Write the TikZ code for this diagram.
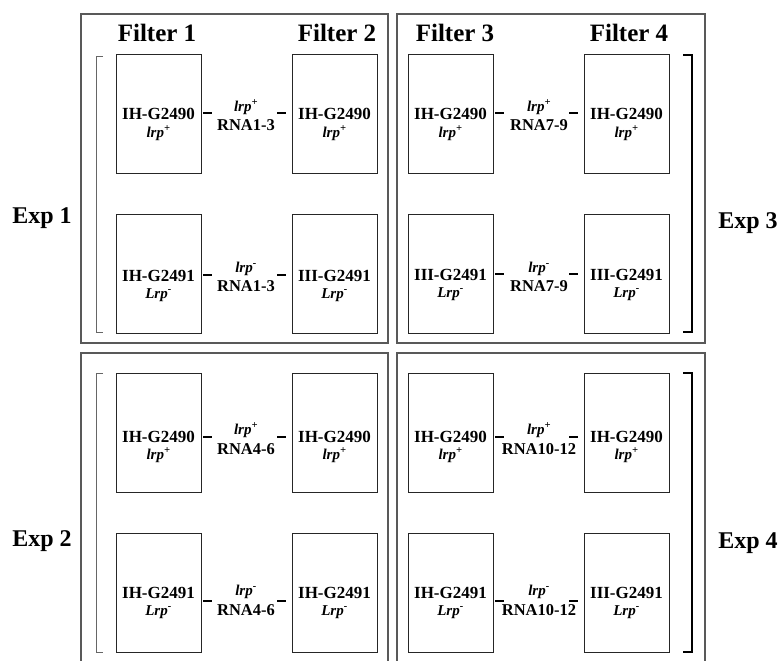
\documentclass[tikz,border=0pt]{standalone}
\usepackage{fontspec}
\setmainfont{Liberation Serif}
\newcommand\lrpp{\textit{lrp}\textsuperscript{+}}
\newcommand\lrpm{\textit{lrp}\textsuperscript{-}}
\newcommand\Lrpm{\textit{Lrp}\textsuperscript{-}}
\tikzset{
  panel/.style={draw=black!65, line width=1.1pt},
  cellbox/.style={draw=black!85, line width=0.9pt, minimum width=85pt, minimum height=119pt, inner sep=0pt},
  bar/.style={line width=2.8pt, draw=black},
  thinbrk/.style={draw=black!60, line width=1pt},
  thickbrk/.style={draw=black, line width=1.6pt},
  celltxt/.style={font=\fontsize{17}{17}\selectfont\bfseries, anchor=base, inner sep=0pt},
  midtxt/.style={font=\fontsize{16.5}{16.5}\selectfont\bfseries, anchor=base, inner sep=0pt},
  subtxt/.style={font=\fontsize{15}{15}\selectfont\bfseries\itshape, anchor=base, inner sep=0pt},
  head/.style={font=\fontsize{25}{25}\selectfont\bfseries, anchor=base, inner sep=0pt},
  explab/.style={font=\fontsize{24}{24}\selectfont\bfseries, anchor=base, inner sep=0pt}
}
\begin{document}
\begin{tikzpicture}[x=1pt,y=-1pt]
\useasboundingbox (0,0) rectangle (780,661);
% panels
\draw[panel] (81,14) rectangle (388,343);
\draw[panel] (397,14) rectangle (705,343);
\draw[panel] (81,661) -- (81,353) -- (388,353) -- (388,661);
\draw[panel] (397,661) -- (397,353) -- (705,353) -- (705,661);
% brackets
\draw[thinbrk] (103,57) -- (96,57) -- (96,332) -- (103,332);
\draw[thinbrk] (103,373) -- (96,373) -- (96,652) -- (103,652);
\draw[thickbrk] (683,55) -- (692,55) -- (692,332) -- (683,332);
\draw[thickbrk] (683,373) -- (692,373) -- (692,652) -- (683,652);
% headers
\node[head] (f1) at (157,42) {Filter 1};
\node[head] (f2) at (337,42) {Filter 2};
\node[head] (f3) at (455,42) {Filter 3};
\node[head] (f4) at (629,42) {Filter 4};
\node[explab] (e1) at (42,223) {Exp 1};
\node[explab] (e3) at (748,228) {Exp 3};
\node[explab] (e2) at (42,546) {Exp 2};
\node[explab] (e4) at (748,548) {Exp 4};
% rows
\foreach \n/\xa/\xb/\xm/\tp/\dy/\la/\ma/\mb/\ta/\tb/\tl/\tq/\tm in {
  1t/116/292/246/54/113/120/111/131/IH-G2490/IH-G2490/\lrpp/\lrpp/RNA1-3,
  1b/116/292/246/214/275/281/272/291/IH-G2491/III-G2491/\Lrpm/\lrpm/RNA1-3,
  3t/408/584/539/54/113/120/111/131/IH-G2490/IH-G2490/\lrpp/\lrpp/RNA7-9,
  3b/408/584/539/214/274/280/272/291/III-G2491/III-G2491/\Lrpm/\lrpm/RNA7-9,
  2t/116/292/246/373/437/442/434/454/IH-G2490/IH-G2490/\lrpp/\lrpp/RNA4-6,
  2b/116/292/246/533/601/598/595/615/IH-G2491/IH-G2491/\Lrpm/\lrpm/RNA4-6,
  4t/408/584/539/373/437/442/434/454/IH-G2490/IH-G2490/\lrpp/\lrpp/RNA10-12,
  4b/408/584/539/533/601/598/595/615/IH-G2491/III-G2491/\Lrpm/\lrpm/RNA10-12}
{
  \node[cellbox] (b\n a) at (\xa+42.5,\tp+59.5) {};
  \node[cellbox] (b\n b) at (\xb+42.5,\tp+59.5) {};
  \node[celltxt] (t\n a) at (\xa+42.5,\la) {\ta};
  \node[celltxt] (t\n b) at (\xb+42.5,\la) {\tb};
  \node[subtxt] (s\n a) at (\xa+42.5,\la+17) {\tl};
  \node[subtxt] (s\n b) at (\xb+42.5,\la+17) {\tl};
  \node[subtxt] (l\n) at (\xm,\ma) {\tq};
  \node[midtxt] (m\n) at (\xm,\mb) {\tm};
  \coordinate (p\n) at (\xa+87,\dy);
  \coordinate (q\n) at (\xb-15,\dy);
  \draw[bar] (p\n) -- ++(9,0);
  \draw[bar] (q\n) -- ++(9,0);
}
\end{tikzpicture}
\end{document}
